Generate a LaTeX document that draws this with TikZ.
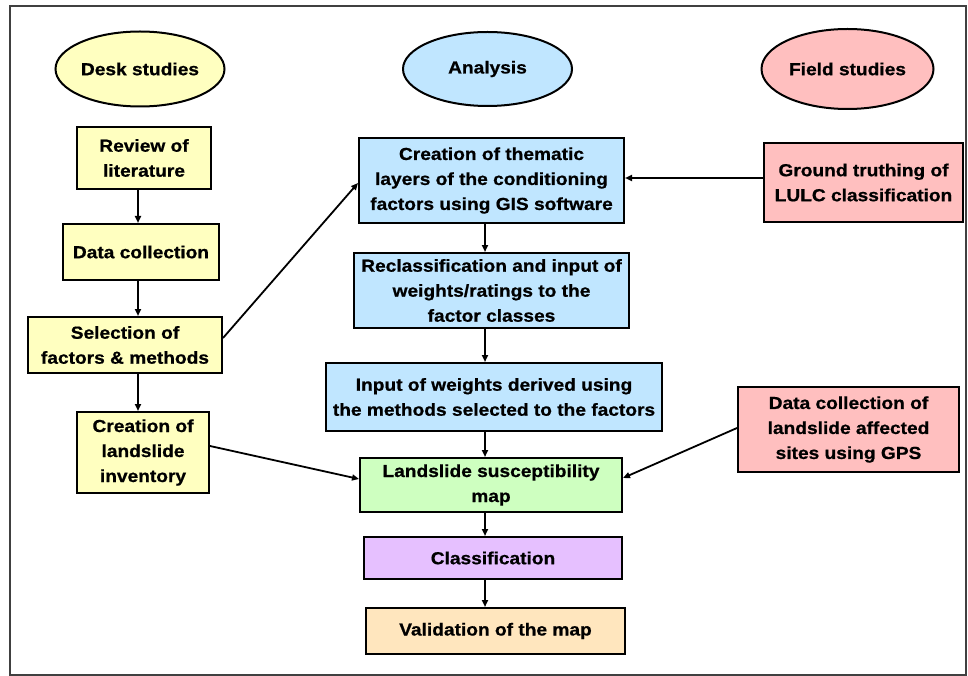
\documentclass[tikz,border=0pt]{standalone}
\usepackage{fontspec}
\setmainfont{Liberation Sans}[FakeStretch=1.1,BoldFeatures={FakeBold=0.8}]
\usetikzlibrary{arrows.meta,shapes.geometric}
\definecolor{cyel}{RGB}{255,255,192}
\definecolor{cblu}{RGB}{192,230,255}
\definecolor{cpnk}{RGB}{255,191,191}
\definecolor{cgrn}{RGB}{206,255,192}
\definecolor{cpur}{RGB}{230,192,255}
\definecolor{corg}{RGB}{255,230,190}
\begin{document}
\begin{tikzpicture}[x=1pt,y=-1pt,
  txt/.style={font=\fontsize{17.4}{25}\selectfont\bfseries},
  box/.style={txt,draw=black,line width=2pt,align=center,inner sep=0pt},
  oval/.style={txt,ellipse,draw=black,line width=2pt,inner sep=0pt},
  arr/.style={-{Triangle[length=7pt,width=6pt]},line width=1.8pt}]
\useasboundingbox (0,0) rectangle (968,676);
\draw[line width=1.8pt,draw=black!75] (10,6) rectangle (966,675);

% headers
\node[oval,fill=cyel,minimum width=169pt,minimum height=75pt] (desk) at (140,69) {Desk studies};
\node[oval,fill=cblu,minimum width=169pt,minimum height=74pt] (ana) at (487.5,69) {Analysis};
\node[oval,fill=cpnk,minimum width=172pt,minimum height=80pt] (field) at (847.5,69) {Field studies};

% left column
\node[box,fill=cyel,minimum width=134pt,minimum height=62pt] (rev) at (144,158) {Review of\\literature};
\node[box,fill=cyel,minimum width=156pt,minimum height=56pt] (dc) at (141,252) {Data collection};
\node[box,fill=cyel,minimum width=194pt,minimum height=56pt] (sel) at (125,345) {Selection of\\factors \& methods};
\node[box,fill=cyel,minimum width=132pt,minimum height=81pt] (inv) at (143,452.5) {Creation of\\landslide\\inventory};

% centre column
\node[box,fill=cblu,minimum width=265pt,minimum height=85pt] (them) at (491.5,180.5) {Creation of thematic\\layers of the conditioning\\factors using GIS software};
\node[box,fill=cblu,minimum width=275pt,minimum height=75pt] (recl) at (491.5,290.5) {Reclassification and input of\\weights/ratings to the\\factor classes};
\node[box,fill=cblu,minimum width=336pt,minimum height=68pt] (inw) at (494,397) {Input of weights derived using\\the methods selected to the factors};
\node[box,fill=cgrn,minimum width=262pt,minimum height=54pt] (lsm) at (491,485) {Landslide susceptibility\\map};
\node[box,fill=cpur,minimum width=258pt,minimum height=42pt] (cls) at (493,558) {Classification};
\node[box,fill=corg,minimum width=259pt,minimum height=46pt] (val) at (495.5,631) {Validation of the map};

% right column
\node[box,fill=cpnk,minimum width=199pt,minimum height=79pt] (gt) at (863.5,182.5) {Ground truthing of\\LULC classification};
\node[box,fill=cpnk,minimum width=221pt,minimum height=85pt] (gps) at (848.5,429.5) {Data collection of\\landslide affected\\sites using GPS};

% guide coordinates
\coordinate (xa) at (138,0);
\coordinate (xb) at (485,0);
\coordinate (yg) at (0,178);

% vertical arrows left
\draw[arr] (rev.south -| xa) -- (dc.north -| xa);
\draw[arr] (dc.south -| xa) -- (sel.north -| xa);
\draw[arr] (sel.south -| xa) -- (inv.north -| xa);

% vertical arrows centre
\draw[arr] (them.south -| xb) -- (recl.north -| xb);
\draw[arr] (recl.south -| xb) -- (inw.north -| xb);
\draw[arr] (inw.south -| xb) -- (lsm.north -| xb);
\draw[arr] (lsm.south -| xb) -- (cls.north -| xb);
\draw[arr] (cls.south -| xb) -- (val.north -| xb);

% cross arrows
\draw[arr] (gt.west |- yg) -- (them.east |- yg);
\draw[arr] ([yshift=7pt]sel.east) -- ([yshift=-2.5pt]them.west);
\draw[arr] ([yshift=6.5pt]inv.east) -- ([yshift=6pt]lsm.west);
\draw[arr] ([yshift=1.5pt]gps.west) -- ([yshift=7pt]lsm.east);
\end{tikzpicture}
\end{document}
